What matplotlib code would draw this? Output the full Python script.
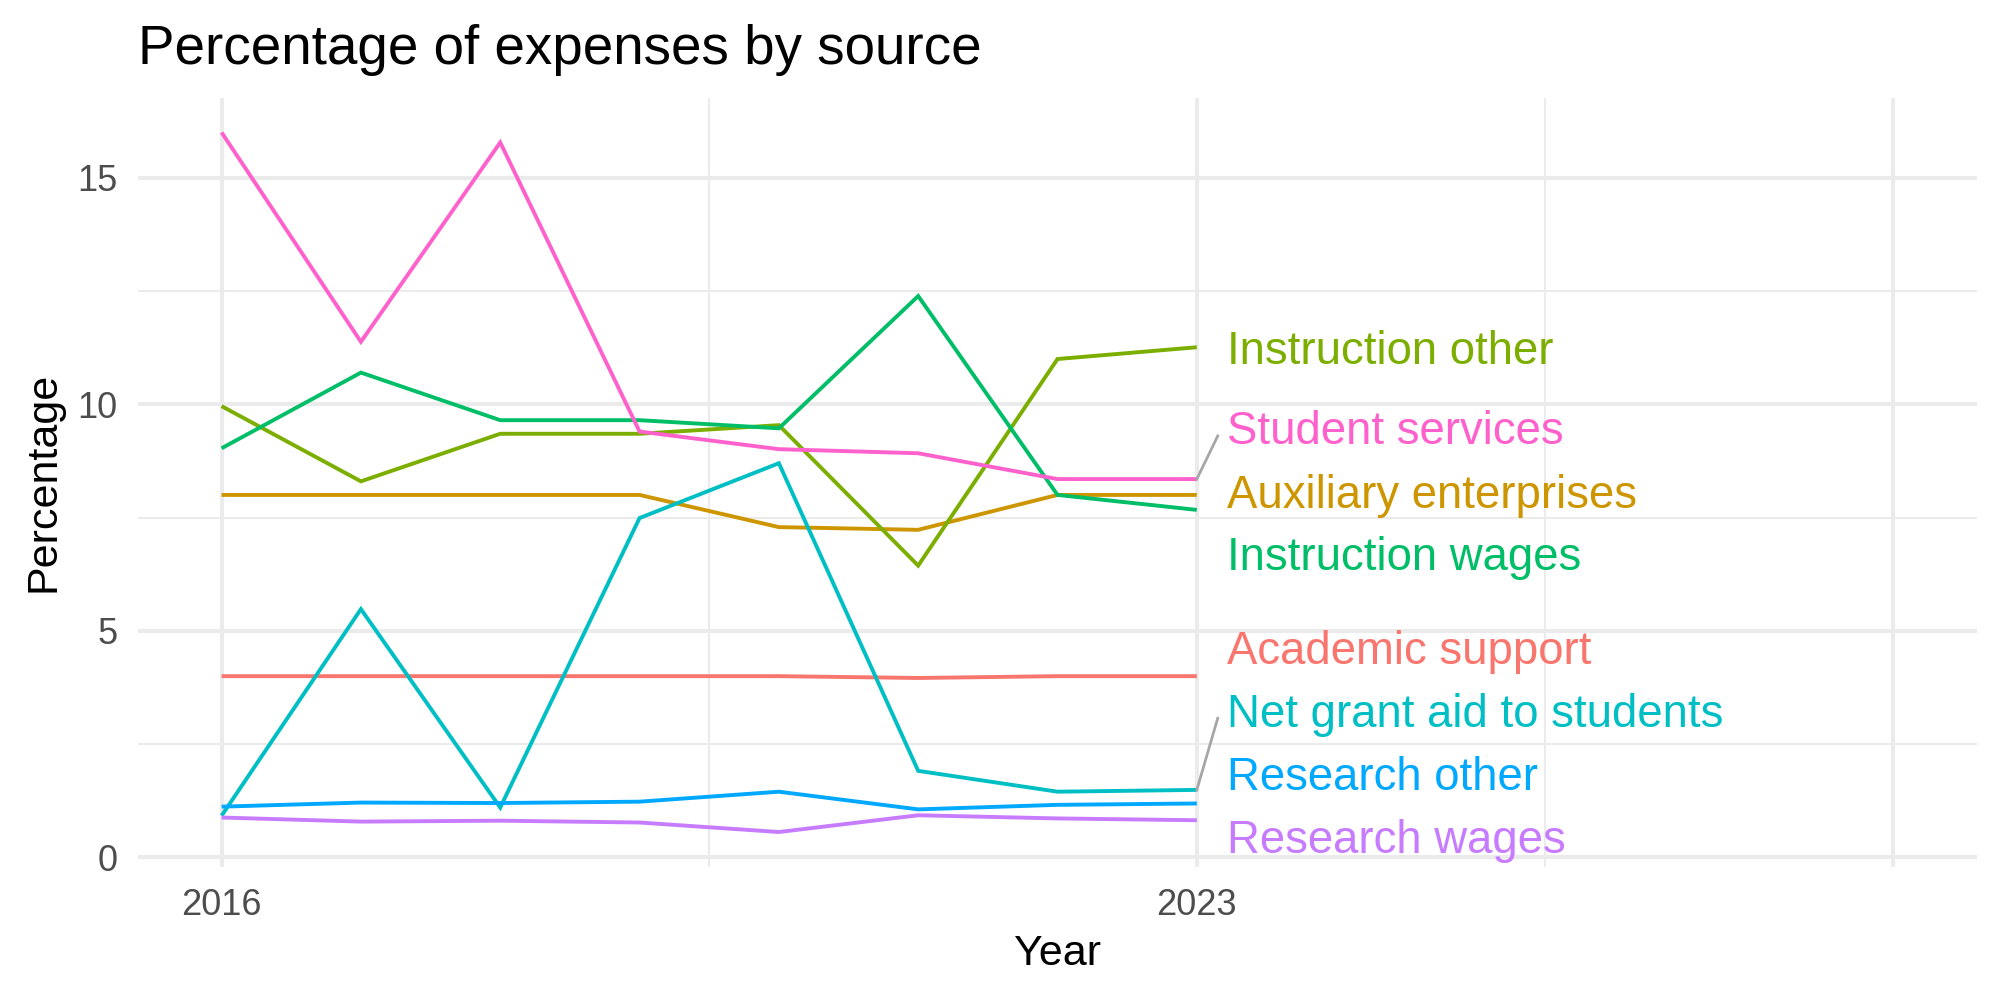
import matplotlib
matplotlib.use("Agg")
import matplotlib.pyplot as plt
from matplotlib.ticker import FixedLocator

plt.rcParams['font.family'] = ['Liberation Sans', 'DejaVu Sans']

years = [2016, 2017, 2018, 2019, 2020, 2021, 2022, 2023]
categories = [
    "Academic support", "Auxiliary enterprises", "Instruction other",
    "Instruction wages", "Net grant aid to students", "Research other",
    "Research wages", "Student services",
]
academic_support = [4.00, 4.00, 4.00, 4.00, 4.00, 3.96, 4.00, 4.00]
auxiliary_enterprises = [8.00, 8.00, 8.00, 8.00, 7.29, 7.23, 8.00, 8.00]
instruction_other = [9.96, 8.30, 9.35, 9.35, 9.54, 6.44, 11.00, 11.26]
instruction_wages = [9.03, 10.70, 9.65, 9.65, 9.47, 12.39, 8.00, 7.67]
net_grant_aid = [0.92, 5.48, 1.10, 7.49, 8.70, 1.91, 1.45, 1.49]
research_other = [1.12, 1.21, 1.20, 1.23, 1.45, 1.06, 1.16, 1.19]
research_wages = [0.88, 0.79, 0.81, 0.77, 0.56, 0.93, 0.86, 0.82]
student_services = [16.00, 11.38, 15.78, 9.40, 9.01, 8.92, 8.35, 8.35]

series = [academic_support, auxiliary_enterprises, instruction_other,
          instruction_wages, net_grant_aid, research_other,
          research_wages, student_services]

x_tick_values = [2016, 2023, 2028]
x_tick_labels = ["2016", "2023", ""]
x_minor = [2019.5, 2025.5]
y_tick_values = [0, 5, 10, 15]
y_tick_labels = ["0", "5", "10", "15"]
y_minor = [2.5, 7.5, 12.5]

# layout for the end labels
label_x = 2023.22
label_y = [4.54, 7.98, 11.16, 6.60, 3.15, 1.75, 0.36, 9.38]
label_leader = [False, False, False, False, True, False, False, True]

colors = ["#F8766D", "#CD9600", "#7CAE00", "#00BE67",
          "#00BFC4", "#00A9FF", "#C77CFF", "#FF61CC"]

fig = plt.figure(figsize=(10, 5), dpi=200)
ax = fig.add_axes([138 / 2000, 1 - 867 / 1000, (1977 - 138) / 2000, (867 - 97.5) / 1000])

ax.set_xlim(2015.4, 2028.6)
ymin = min(min(s) for s in series)
ymax = max(max(s) for s in series)
pad = (ymax - ymin) * 0.05
ax.set_ylim(ymin - pad, ymax + pad)

grid_c = "#EBEBEB"
ax.xaxis.set_major_locator(FixedLocator(x_tick_values))
ax.set_xticklabels(x_tick_labels)
ax.xaxis.set_minor_locator(FixedLocator(x_minor))
ax.yaxis.set_major_locator(FixedLocator(y_tick_values))
ax.set_yticklabels(y_tick_labels)
ax.yaxis.set_minor_locator(FixedLocator(y_minor))
ax.grid(which="major", color=grid_c, linewidth=1.45)
ax.grid(which="minor", color=grid_c, linewidth=0.75)
ax.set_axisbelow(True)
for sp in ax.spines.values():
    sp.set_visible(False)
ax.tick_params(which="both", length=0)
ax.tick_params(axis="x", labelsize=13, labelcolor="#4D4D4D", pad=7.5)
ax.tick_params(axis="y", labelsize=13, labelcolor="#4D4D4D", pad=7.5)

for vals, col in zip(series, colors):
    ax.plot(years, vals, color=col, linewidth=1.4, solid_capstyle="butt",
            solid_joinstyle="miter")

for name, vals, ly, lead, col in zip(categories, series, label_y, label_leader, colors):
    ax.text(label_x, ly, name, color=col, fontsize=16.4, ha="left", va="center")
    if lead:
        ax.plot([years[-1], label_x - 0.07], [vals[-1], ly - 0.08],
                color="#A6A6A6", linewidth=1.0)

ax.set_xlabel("Year", fontsize=15.5, color="black", labelpad=4)
ax.set_ylabel("Percentage", fontsize=15.5, color="black", labelpad=5)

fig.text(138 / 2000, 1 - 50 / 1000, "Percentage of expenses by source",
         fontsize=19.7, color="black", ha="left", va="center")

fig.savefig("out.png", dpi=200, facecolor="white")
